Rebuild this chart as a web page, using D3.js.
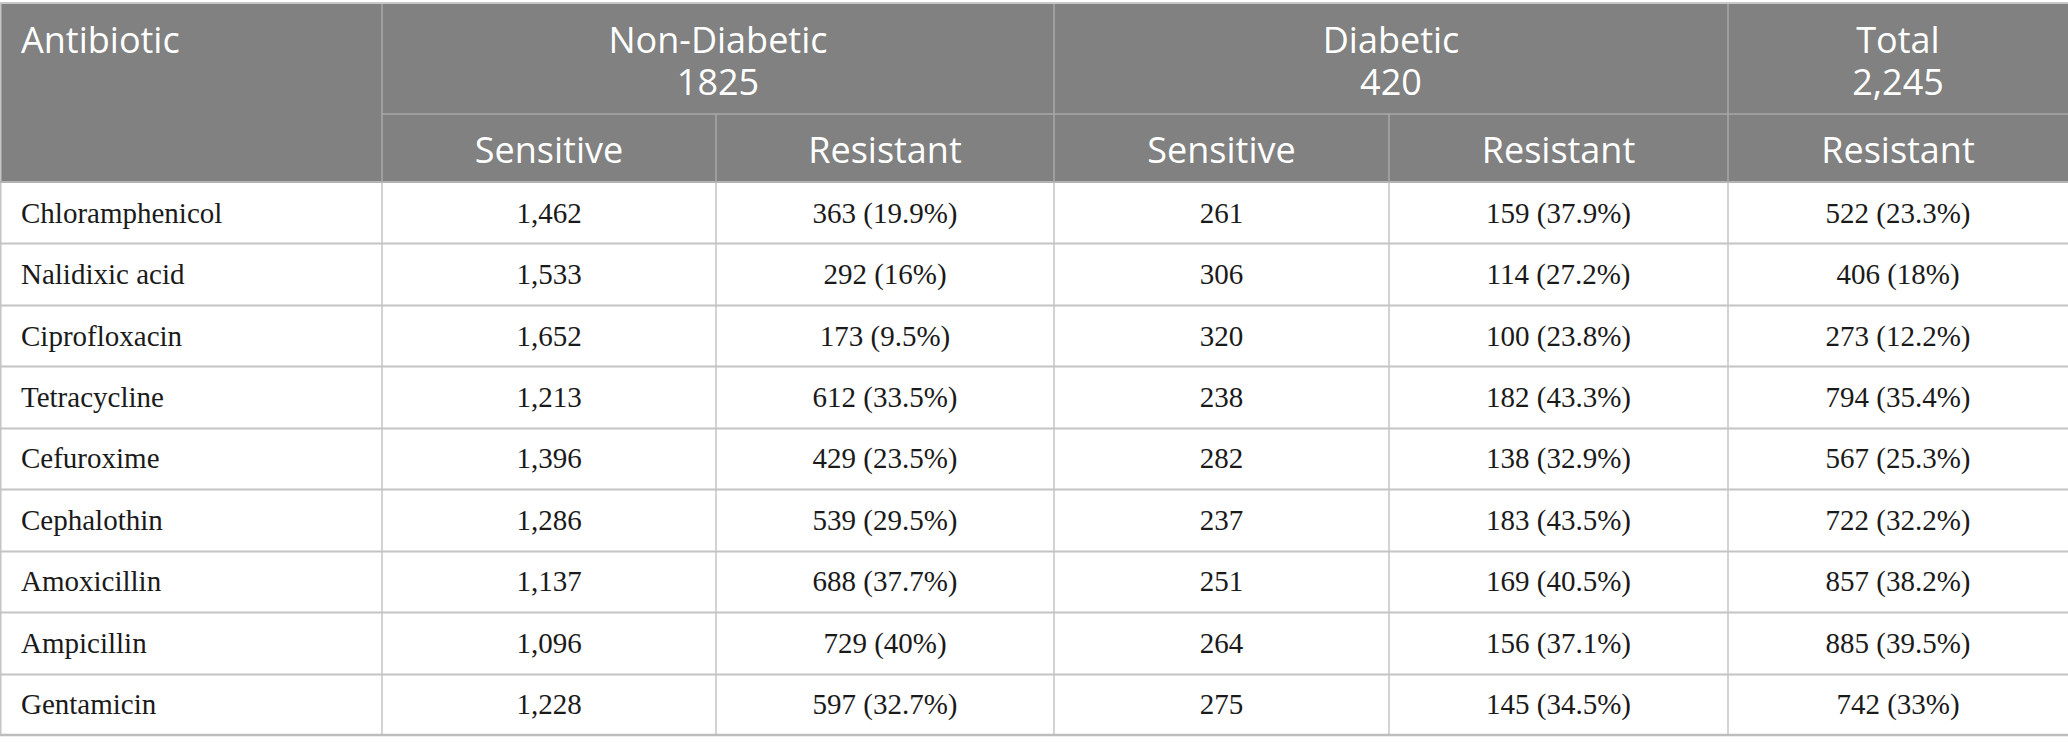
<!DOCTYPE html>
<html>
<head>
<meta charset="utf-8">
<script src="https://cdn.jsdelivr.net/npm/d3@7"></script>
<style>
  body { margin: 0; background: #fff; }
  .hd { font-family: "Open Sans", "Noto Sans", sans-serif; font-size: 36px; fill: #fff; }
  .cell { font-family: "Liberation Serif", "Times New Roman", serif; font-size: 29px; fill: #1a1a1a; }
</style>
</head>
<body>
<svg id="tbl"></svg>
<script>
'use strict';

// table data
var antibiotics = ['Chloramphenicol', 'Nalidixic acid', 'Ciprofloxacin', 'Tetracycline', 'Cefuroxime',
  'Cephalothin', 'Amoxicillin', 'Ampicillin', 'Gentamicin'];
var nonDiabSensitive = [1462, 1533, 1652, 1213, 1396, 1286, 1137, 1096, 1228];
var nonDiabResistant = [363, 292, 173, 612, 429, 539, 688, 729, 597];
var nonDiabPct = ['19.9', '16', '9.5', '33.5', '23.5', '29.5', '37.7', '40', '32.7'];
var diabSensitive = [261, 306, 320, 238, 282, 237, 251, 264, 275];
var diabResistant = [159, 114, 100, 182, 138, 183, 169, 156, 145];
var diabPct = ['37.9', '27.2', '23.8', '43.3', '32.9', '43.5', '40.5', '37.1', '34.5'];
var totalResistant = [522, 406, 273, 794, 567, 722, 857, 885, 742];
var totalPct = ['23.3', '18', '12.2', '35.4', '25.3', '32.2', '38.2', '39.5', '33'];

var groupLabels = ['Non-Diabetic', 'Diabetic', 'Total'];
var groupCounts = ['1825', '420', '2,245'];
var subLabels = ['Sensitive', 'Resistant', 'Sensitive', 'Resistant', 'Resistant'];

var width = 2068,
    height = 754;

// layout: column widths
var colWidths = [382, 334, 338, 335, 339, 340];
var colEdges = [0];
colWidths.forEach(function(w, i) { colEdges.push(colEdges[i] + w); });

var headTop = 4, headMid = 114, headBot = 182, tableBot = 735;

var fmt = d3.format(',');

var y = d3.scaleBand()
    .domain(d3.range(antibiotics.length))
    .range([headBot, tableBot]);

var svg = d3.select('#tbl')
    .attr('width', width)
    .attr('height', height);

// header background
svg.append('rect')
    .attr('x', 0).attr('y', headTop)
    .attr('width', width).attr('height', headBot - headTop)
    .attr('fill', '#808180');

// rows as text cells
var rows = antibiotics.map(function(name, i) {
  return [
    name,
    fmt(nonDiabSensitive[i]),
    nonDiabResistant[i] + ' (' + nonDiabPct[i] + '%)',
    fmt(diabSensitive[i]),
    diabResistant[i] + ' (' + diabPct[i] + '%)',
    totalResistant[i] + ' (' + totalPct[i] + '%)'
  ];
});

var row = svg.selectAll('g.row')
    .data(rows)
  .enter().append('g')
    .attr('class', 'row')
    .attr('transform', function(d, i) { return 'translate(0,' + y(i) + ')'; });

row.selectAll('text')
    .data(function(d) { return d; })
  .enter().append('text')
    .attr('class', 'cell')
    .attr('x', function(d, j) { return j === 0 ? 21 : (colEdges[j] + colEdges[j + 1]) / 2; })
    .attr('y', y.bandwidth() / 2 + 10)
    .attr('text-anchor', function(d, j) { return j === 0 ? 'start' : 'middle'; })
    .text(function(d) { return d; });

// grid lines in the body
var grid = '#c4c4c4';
svg.selectAll('line.hrow')
    .data(d3.range(1, antibiotics.length))
  .enter().append('line')
    .attr('x1', 0).attr('x2', width)
    .attr('y1', function(i) { return Math.round(y(i)) + 0.5; })
    .attr('y2', function(i) { return Math.round(y(i)) + 0.5; })
    .attr('stroke', grid).attr('stroke-width', 2);

svg.selectAll('line.vcol')
    .data(colEdges.slice(1, -1))
  .enter().append('line')
    .attr('x1', function(d) { return d; }).attr('x2', function(d) { return d; })
    .attr('y1', headBot).attr('y2', tableBot)
    .attr('stroke', grid).attr('stroke-width', 1.5);

// outer border
svg.append('line').attr('x1', 0).attr('x2', width).attr('y1', tableBot).attr('y2', tableBot)
    .attr('stroke', '#bdbdbd').attr('stroke-width', 2.5);
svg.append('line').attr('x1', 0).attr('x2', width).attr('y1', headTop - 1).attr('y2', headTop - 1)
    .attr('stroke', '#c8c8c8').attr('stroke-width', 2);
svg.append('line').attr('x1', 0.75).attr('x2', 0.75).attr('y1', headTop).attr('y2', tableBot)
    .attr('stroke', grid).attr('stroke-width', 1.5);

// header lines
var hline = '#a9a9a9';
svg.append('line').attr('x1', colEdges[1]).attr('x2', width).attr('y1', headMid).attr('y2', headMid)
    .attr('stroke', hline).attr('stroke-width', 1.5);
svg.append('line').attr('x1', 0).attr('x2', width).attr('y1', headBot).attr('y2', headBot)
    .attr('stroke', '#b3b3b3').attr('stroke-width', 2);

// group boundaries run through both header rows; inner ones only the lower
var groupEdges = [colEdges[1], colEdges[3], colEdges[5]];
svg.selectAll('line.gcol')
    .data(groupEdges)
  .enter().append('line')
    .attr('x1', function(d) { return d; }).attr('x2', function(d) { return d; })
    .attr('y1', headTop).attr('y2', headBot)
    .attr('stroke', hline).attr('stroke-width', 1.5);
svg.selectAll('line.scol')
    .data([colEdges[2], colEdges[4]])
  .enter().append('line')
    .attr('x1', function(d) { return d; }).attr('x2', function(d) { return d; })
    .attr('y1', headMid).attr('y2', headBot)
    .attr('stroke', hline).attr('stroke-width', 1.5);

// header text
svg.append('text').attr('class', 'hd')
    .attr('x', 21).attr('y', 53)
    .text('Antibiotic');

var groupCenters = [
  (colEdges[1] + colEdges[3]) / 2,
  (colEdges[3] + colEdges[5]) / 2,
  (colEdges[5] + colEdges[6]) / 2
];
svg.selectAll('text.grp')
    .data(groupLabels)
  .enter().append('text')
    .attr('class', 'hd grp')
    .attr('text-anchor', 'middle')
    .attr('x', function(d, i) { return groupCenters[i]; })
    .attr('y', 53)
    .text(function(d) { return d; });

svg.selectAll('text.cnt')
    .data(groupCounts)
  .enter().append('text')
    .attr('class', 'hd cnt')
    .attr('text-anchor', 'middle')
    .attr('x', function(d, i) { return groupCenters[i]; })
    .attr('y', 95)
    .text(function(d) { return d; });

svg.selectAll('text.sub')
    .data(subLabels)
  .enter().append('text')
    .attr('class', 'hd sub')
    .attr('text-anchor', 'middle')
    .attr('x', function(d, i) { return (colEdges[i + 1] + colEdges[i + 2]) / 2; })
    .attr('y', 163)
    .text(function(d) { return d; });
</script>
</body>
</html>
